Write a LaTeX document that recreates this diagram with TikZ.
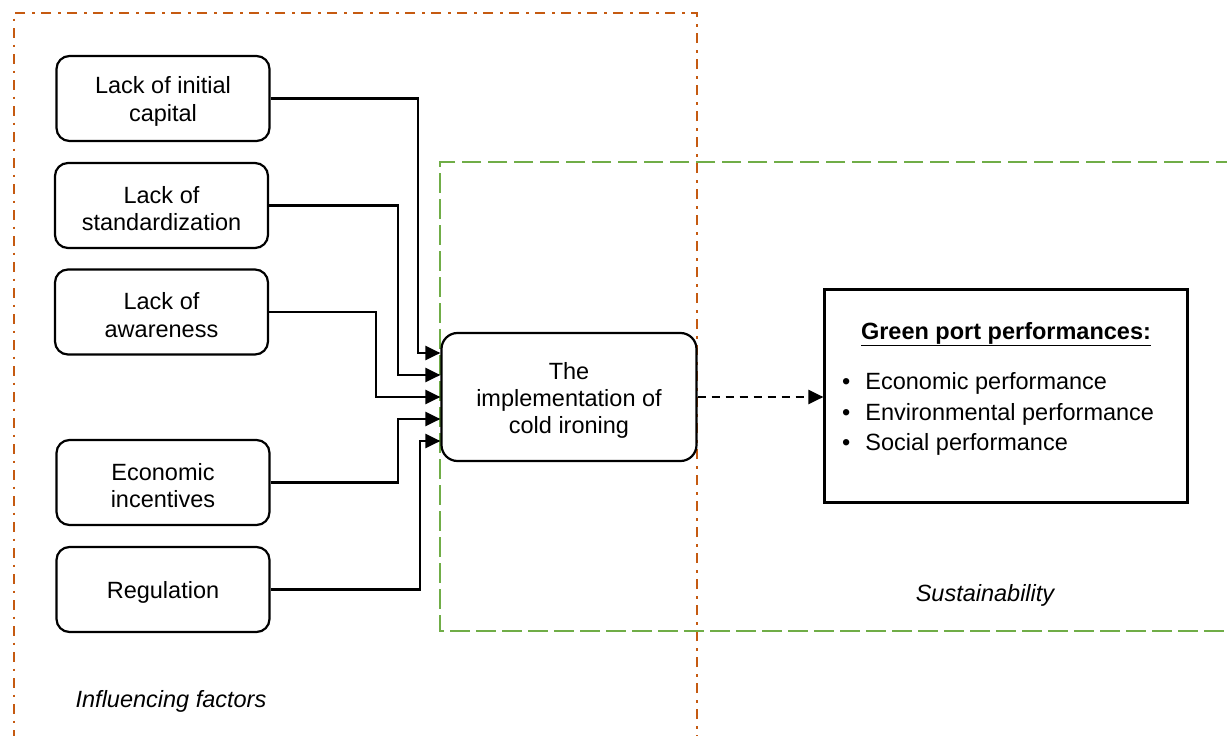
\documentclass[tikz,border=0pt]{standalone}
\usepackage{fontspec}
\setmainfont{Liberation Sans}
\usetikzlibrary{arrows.meta,calc}
\definecolor{orangeline}{HTML}{C55A11}
\definecolor{greenline}{HTML}{70AD47}
\newcommand{\lowstrut}{\rule{0pt}{23pt}}
\begin{document}
\begin{tikzpicture}[x=1pt,y=-1pt,
  factor/.style={draw=black,line width=2.2pt,rounded corners=13pt,minimum width=213pt,minimum height=85pt,align=center,inner sep=0pt,font=\fontsize{23.5}{27.5}\selectfont},
  core/.style={draw=black,line width=2.2pt,rounded corners=16pt,minimum width=255pt,minimum height=128pt,align=center,inner sep=0pt,font=\fontsize{23.5}{27}\selectfont},
  perf/.style={draw=black,line width=2.2pt,minimum width=363pt,minimum height=213pt,inner sep=0pt},
  txt/.style={inner sep=0pt,font=\fontsize{23.5}{27}\selectfont},
  arr/.style={line width=2.2pt,-{Triangle[length=15pt,width=14pt]}},
  darr/.style={line width=2.2pt,dash pattern=on 8pt off 6pt,-{Triangle[length=15pt,width=14pt]}}
]
\clip (0,0) rectangle (1227,736);
\fill[white] (0,0) rectangle (1227,736);
% frames
\draw[orangeline,line width=2.2pt,dash pattern=on 10pt off 6.5pt on 2.5pt off 7pt] (697,745) -- (697,13) -- (14,13) -- (14,745);
\draw[greenline,line width=2.2pt,dash pattern=on 19.5pt off 6.5pt] (1235,162) -- (440,162) -- (440,631) -- (1235,631);
% nodes
\node[factor] (b1) at (163,98.5) {\lowstrut Lack of initial\\capital};
\node[factor] (b2) at (161.5,205.5) {\lowstrut Lack of\\standardization};
\node[factor] (b3) at (161.5,312) {\lowstrut Lack of\\awareness};
\node[factor] (b4) at (163,482.5) {\lowstrut Economic\\incentives};
\node[factor] (b5) at (163,589.5) {\lowstrut Regulation};
\node[core] (c) at (569,397) {\lowstrut The\\implementation of\\cold ironing};
\node[perf] (p) at (1006,396) {};
\node[txt,font=\fontsize{23.5}{27}\selectfont\bfseries] (pt) at (1006,334) {\underline{Green port performances:}};
\node[txt,anchor=west] (i1) at (842,383) {•\hspace{15pt}Economic performance};
\node[txt,anchor=west] (i2) at (842,414) {•\hspace{15pt}Environmental performance};
\node[txt,anchor=west] (i3) at (842,444) {•\hspace{15pt}Social performance};
\node[txt,font=\fontsize{23.5}{27}\selectfont\itshape] (sus) at (985,595) {Sustainability};
\node[txt,font=\fontsize{23.5}{27}\selectfont\itshape] (inf) at (171,701) {Influencing factors};
% connectors
\coordinate (k1) at (418,353);
\coordinate (k2) at (398,375);
\coordinate (k3) at (376,397);
\coordinate (k4) at (398,419);
\coordinate (k5) at (420,441);
\draw[arr] (b1.east) -| (k1) -- ([yshift=44pt]c.west);
\draw[arr] (b2.east) -| (k2) -- ([yshift=22pt]c.west);
\draw[arr] (b3.east) -| (k3) -- (c.west);
\draw[arr] (b4.east) -| (k4) -- ([yshift=-22pt]c.west);
\draw[arr] (b5.east) -| (k5) -- ([yshift=-44pt]c.west);
\draw[darr] (c.east) -- (c.east -| p.west);
\end{tikzpicture}
\end{document}
